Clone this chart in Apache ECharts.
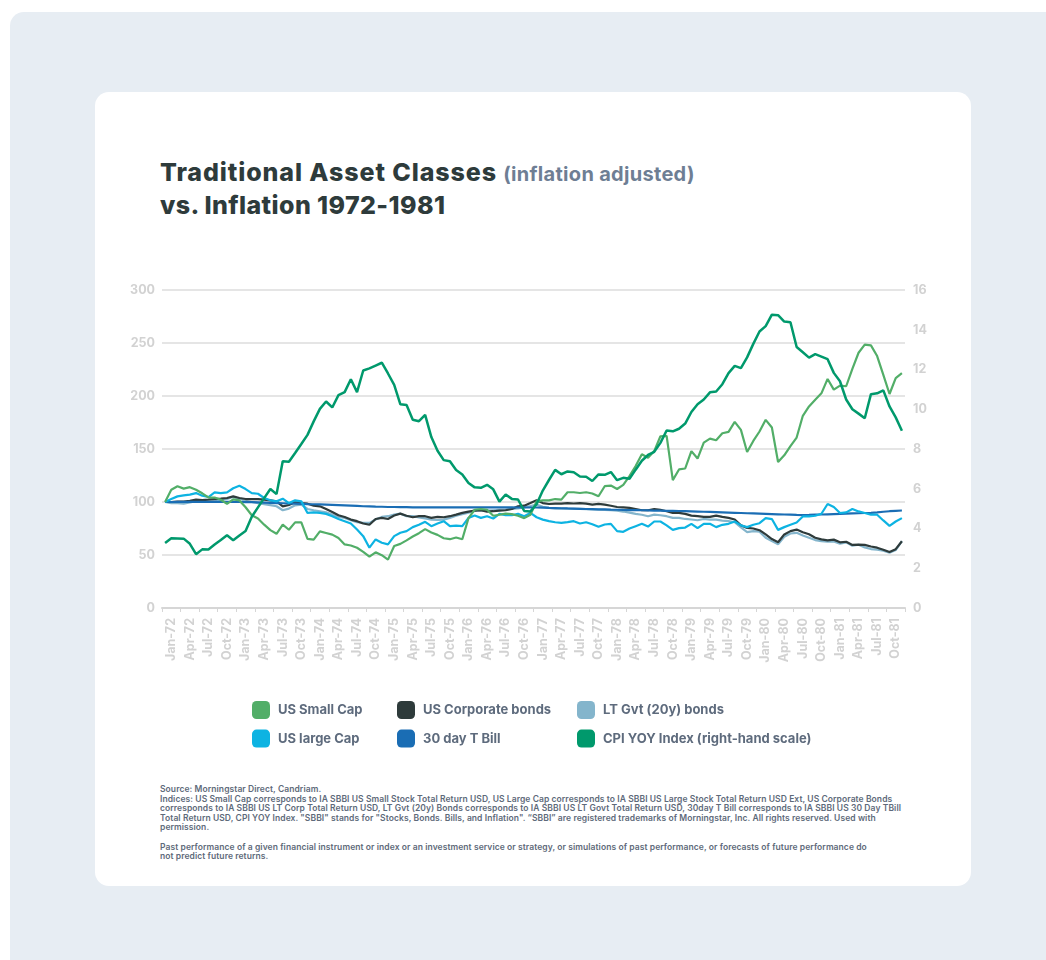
<!DOCTYPE html>
<html>
<head>
<meta charset="utf-8">
<script src="https://cdn.jsdelivr.net/npm/echarts@6/dist/echarts.min.js"></script>
<style>
  html, body { margin: 0; padding: 0; background: #ffffff; }
  body { width: 1046px; height: 960px; position: relative; overflow: hidden; font-family: Inter, "Open Sans", sans-serif; }
  #panel { position: absolute; left: 10px; top: 12px; width: 1060px; height: 980px; background: #E7EDF3; border-radius: 14px; }
  #card { position: absolute; left: 95px; top: 92px; width: 876px; height: 794px; background: #ffffff; border-radius: 14px; }
  #title { position: absolute; left: 160px; top: 157px; font-weight: 800; font-size: 25px; line-height: 31px; color: #2E3B3B; white-space: nowrap; letter-spacing: 0.9px; }
  #title .sub { font-weight: 700; font-size: 20px; color: #6E7E94; letter-spacing: 0.3px; }
  #title .second { letter-spacing: 0.4px; }
  #notes { position: absolute; left: 160px; top: 785px; font-weight: 600; font-size: 8.5px; line-height: 9.6px; color: #5E6A7A; white-space: nowrap; letter-spacing: 0.08px; }
  #chart { position: absolute; left: 0; top: 0; width: 1046px; height: 960px; }
</style>
</head>
<body>
<div id="panel"></div>
<div id="card"></div>
<div id="title">Traditional Asset Classes <span class="sub">(inflation adjusted)</span><br><span class="second">vs. Inflation 1972-1981</span></div>
<div id="notes">
Source: Morningstar Direct, Candriam.<br>
Indices: US Small Cap corresponds to IA SBBI US Small Stock Total Return USD, US Large Cap corresponds to IA SBBI US Large Stock Total Return USD Ext, US Corporate Bonds<br>
corresponds to IA SBBI US LT Corp Total Return USD, LT Gvt (20y) Bonds corresponds to IA SBBI US LT Govt Total Return USD, 30day T Bill corresponds to IA SBBI US 30 Day TBill<br>
Total Return USD, CPI YOY Index. "SBBI" stands for "Stocks, Bonds. Bills, and Inflation". “SBBI” are registered trademarks of Morningstar, Inc. All rights reserved. Used with<br>
permission.<br>
<br>
Past performance of a given financial instrument or index or an investment service or strategy, or simulations of past performance, or forecasts of future performance do<br>
not predict future returns.
</div>
<div id="chart"></div>
<script>
// Monthly categories Jan-72 .. Dec-81, quarterly tick labels
const years = ['72', '73', '74', '75', '76', '77', '78', '79', '80', '81'];
const monthNames = ['Jan', 'Feb', 'Mar', 'Apr', 'May', 'Jun', 'Jul', 'Aug', 'Sep', 'Oct', 'Nov', 'Dec'];
const quarterMonths = ['Jan', 'Apr', 'Jul', 'Oct'];
const months = years.flatMap(y => monthNames.map(m => m + '-' + y));
const quarterLabels = years.flatMap(y => quarterMonths.map(m => m + '-' + y));

// Real growth of 100 (inflation adjusted), monthly
const smallCap = [
  100, 111.5, 114.8, 112.6, 114, 111.6, 108.2, 104.3, 104.2, 102.1, 98.3, 102.5,
  101.5, 95, 87.5, 84.5, 78.6, 73.5, 70, 78.6, 73.8, 80.8, 80.8, 65.2,
  64.5, 72.3, 70.8, 69.2, 66, 60, 59, 56.8, 53, 48.4, 52.5, 49.8,
  45.6, 58.5, 60.5, 63.8, 67.4, 70.6, 74.4, 71.2, 69, 65.8, 64.9, 66.5,
  64.9, 84.8, 92.7, 93.4, 92.7, 87, 88, 89, 88.6, 87, 84.8, 88,
  100.6, 101.6, 101.6, 102.8, 102.2, 109.2, 109.2, 108.5, 109.2, 108, 105.4, 114.9,
  115.5, 112.3, 116.1, 124.4, 133.9, 145, 141.8, 148, 162, 162.3, 120.6, 130.7,
  131.6, 148, 141, 156, 159.8, 158.2, 164.9, 166.1, 175.6, 168, 147.2, 157.6,
  166.5, 177.5, 170.3, 137.7, 144, 152.8, 160.8, 181.3, 190.2, 196.5, 202.5, 216.1,
  206, 209.8, 209.2, 225.6, 240.8, 248.4, 247.8, 237.7, 219.9, 201.9, 216.8, 221.5
];
const largeCap = [
  100, 102.8, 105.3, 106.3, 106.9, 108.4, 105.9, 104.7, 109, 108.4, 109, 113,
  115.3, 112.2, 108.4, 107.8, 103.8, 101.6, 100.6, 103.1, 99, 101.6, 100.6, 89.7,
  90.3, 89.7, 88.8, 86.6, 84, 81.9, 79.7, 74, 67.8, 56.9, 64.7, 61.6,
  60, 67.8, 71, 72.5, 76.3, 78.5, 81.3, 77.2, 79.7, 81.9, 77.2, 77.8,
  77.2, 85, 87.2, 85, 86.6, 84.4, 88.8, 87.5, 87.5, 88.8, 86.6, 89.7,
  85.6, 83.4, 81.9, 80.9, 80.3, 81, 81.9, 79.7, 80.9, 79, 76.6, 78.8,
  79.4, 72.5, 71.9, 75, 77.2, 79.4, 76.8, 81.6, 81.6, 78, 73.7, 75.3,
  75.9, 79.4, 75.3, 79.4, 79.4, 76.3, 78.5, 79.4, 81.6, 78, 76.3, 78.5,
  80, 84.8, 83.9, 73.7, 76.3, 78.5, 80.7, 86.4, 86.4, 87, 88.9, 98.1,
  95.3, 89.6, 90.2, 93.4, 91.1, 89.6, 88, 88, 82.6, 77.5, 81.6, 84.8
];
const corpBonds = [
  100, 100, 100.3, 100.3, 101, 102.2, 101.8, 102.2, 102.8, 103.2, 103.8, 105.3,
  103.8, 102.8, 102.8, 102.8, 102.2, 101.6, 100.6, 95.9, 97.2, 99.7, 99, 98.4,
  96.6, 95.9, 93.4, 90.6, 87.5, 85.9, 83.4, 81.9, 79.7, 78.5, 84, 85,
  84, 87.2, 89, 87, 85.6, 86.6, 86.6, 85, 85.9, 85.6, 86.6, 88.1,
  89.7, 90.9, 91.9, 92.2, 90.9, 91.3, 91.9, 92.2, 93.4, 95.9, 96.5, 99,
  101.6, 99, 98.1, 98.4, 98.4, 99, 98.6, 99, 98.4, 97.5, 98.2, 97.5,
  96.5, 95.3, 95, 94.4, 93.4, 92.2, 92.2, 93.4, 92.5, 91.3, 89.7, 89.7,
  88.8, 87.2, 86.6, 85.9, 85.9, 87.2, 85.9, 85, 83.5, 78, 75.6, 75,
  73.4, 69.4, 65, 62, 69.4, 72.5, 74, 71.5, 69.5, 66.3, 64.7, 63.8,
  64.5, 62, 62.5, 59.5, 59.8, 59.5, 58, 56.9, 55, 52.8, 55.5, 63
];
const ltGvtBonds = [
  100, 99, 98.8, 98.4, 99.5, 100.8, 101, 100.2, 100.5, 102.2, 103, 104.7,
  103, 101, 100, 99, 98, 97, 96, 92.2, 93.8, 96.9, 97.5, 93.4,
  92.2, 91.3, 90.3, 88.1, 85.9, 85, 82.8, 80.9, 80.3, 80.3, 83.4, 85.9,
  86.6, 88.1, 89, 86.6, 86.6, 85.5, 84.5, 83.4, 83, 83.4, 85, 87,
  88.5, 90, 91.5, 92, 91.8, 92.2, 92.6, 92.8, 93.5, 94, 95, 96.2,
  97.5, 95.5, 94.4, 94, 93.8, 93.8, 93.6, 93.5, 93.3, 93, 92.8, 92.5,
  92.2, 91.9, 91, 90, 88.8, 88, 86.6, 88.1, 87.5, 86.6, 85, 85,
  84, 83.5, 82.8, 84, 83.4, 83.4, 82.5, 81.9, 80.9, 76, 71.6, 72.5,
  72, 66.3, 63.1, 60, 67.2, 70.3, 70.9, 68.4, 66.3, 64.1, 63.1, 62.5,
  62.8, 60.6, 61.9, 58.8, 59.7, 57.2, 55.6, 55, 54.1, 52.2, 54.7, 63.2
];
const tBill = [
  100, 100, 100.1, 100.1, 100.1, 100.2, 100.2, 100.2, 100.2, 100.2, 100.1, 100.1,
  100, 99.9, 99.8, 99.6, 99.4, 99.2, 99, 98.8, 98.6, 98.4, 98.2, 98,
  97.9, 97.7, 97.5, 97.3, 97.1, 96.9, 96.6, 96.3, 96, 95.8, 95.6, 95.5,
  95.3, 95.3, 95.2, 95.1, 95, 95, 94.9, 94.9, 94.9, 94.9, 94.9, 94.9,
  94.9, 94.9, 94.9, 94.9, 94.9, 94.9, 94.9, 94.9, 94.9, 94.8, 94.8, 94.8,
  94.8, 94.6, 94.4, 94.3, 94.1, 93.9, 93.8, 93.6, 93.4, 93.3, 93.1, 93,
  92.8, 92.7, 92.5, 92.4, 92.3, 92.2, 92.1, 91.9, 91.8, 91.7, 91.6, 91.5,
  91.4, 91.2, 91, 90.8, 90.6, 90.4, 90.2, 90, 89.8, 89.6, 89.4, 89.2,
  89, 88.8, 88.6, 88.4, 88.2, 88, 87.8, 87.7, 87.8, 88, 88.2, 88.4,
  88.6, 88.8, 89, 89.2, 89.4, 89.6, 89.8, 90.2, 90.8, 91.3, 91.7, 92
];
// CPI year-over-year change, %
const cpiYoy = [
  3.27, 3.51, 3.5, 3.49, 3.23, 2.71, 2.95, 2.94, 3.19, 3.42, 3.66, 3.41,
  3.65, 3.87, 4.59, 5.06, 5.53, 5.99, 5.73, 7.38, 7.36, 7.8, 8.25, 8.71,
  9.39, 10.02, 10.39, 10.09, 10.71, 10.86, 11.51, 10.86, 11.95, 12.06, 12.2, 12.34,
  11.8, 11.23, 10.25, 10.21, 9.47, 9.4, 9.72, 8.6, 7.91, 7.44, 7.38, 6.94,
  6.72, 6.29, 6.07, 6.05, 6.2, 5.97, 5.35, 5.71, 5.49, 5.46, 4.88, 4.86,
  5.22, 5.91, 6.44, 6.95, 6.73, 6.87, 6.83, 6.62, 6.6, 6.39, 6.72, 6.7,
  6.84, 6.43, 6.55, 6.5, 6.96, 7.41, 7.7, 7.86, 8.31, 8.93, 8.89, 9.02,
  9.28, 9.86, 10.25, 10.49, 10.85, 10.89, 11.26, 11.82, 12.18, 12.07, 12.61, 13.29,
  13.91, 14.18, 14.76, 14.73, 14.41, 14.38, 13.13, 12.87, 12.6, 12.77, 12.65, 12.52,
  11.83, 11.41, 10.49, 10, 9.78, 9.55, 10.76, 10.8, 10.95, 10.14, 9.59, 8.92
];

const seriesNames = {
  small: 'US Small Cap',
  large: 'US large Cap',
  corp: 'US Corporate bonds',
  tbill: '30 day T Bill',
  gvt: 'LT Gvt (20y) bonds',
  cpi: 'CPI YOY Index (right-hand scale)'
};
const colors = {
  small: '#52AE68',
  large: '#0DB3E2',
  corp: '#2E3B3B',
  tbill: '#1A6DB4',
  gvt: '#84B5CC',
  cpi: '#00996C'
};

const FONT = 'Inter, "Open Sans", sans-serif';
const axisText = { color: '#D2D2D2', fontSize: 12.5, fontWeight: 'bold', fontFamily: FONT };

function lineSeries(key, data, width, yAxisIndex) {
  return {
    name: seriesNames[key],
    type: 'line',
    data: data,
    xAxisIndex: 0,
    yAxisIndex: yAxisIndex || 0,
    symbol: 'none',
    smooth: false,
    color: colors[key],
    itemStyle: { color: colors[key] },
    lineStyle: { color: colors[key], width: width },
    emphasis: { disabled: true },
    animation: false
  };
}

function legendColumn(left, names) {
  return {
    orient: 'vertical',
    left: left,
    top: 701,
    padding: 0,
    itemWidth: 18,
    itemHeight: 18,
    itemGap: 10.6,
    icon: 'roundRect',
    selectedMode: false,
    data: names,
    textStyle: { color: '#5E6B7D', fontSize: 13, fontWeight: 'bold', fontFamily: FONT, padding: [0, 0, 0, 3] }
  };
}

const chart = echarts.init(document.getElementById('chart'), null, { renderer: 'canvas' });
chart.setOption({
  backgroundColor: 'transparent',
  animation: false,
  grid: { left: 162, right: 141, top: 290, bottom: 352, containLabel: false },
  xAxis: [
    {
      type: 'category',
      data: months,
      boundaryGap: true,
      show: false
    },
    {
      type: 'category',
      data: quarterLabels,
      boundaryGap: true,
      position: 'bottom',
      axisLine: { show: true, lineStyle: { color: '#D6D6D6', width: 2 } },
      axisTick: { show: true, interval: 0, length: 4, lineStyle: { color: '#D6D6D6', width: 1 } },
      axisLabel: Object.assign({ rotate: 90, interval: 0, margin: 10 }, axisText),
      splitLine: { show: false }
    }
  ],
  yAxis: [
    {
      type: 'value',
      min: 0, max: 300, interval: 50,
      axisLine: { show: false },
      axisTick: { show: false },
      axisLabel: Object.assign({ margin: 7 }, axisText),
      splitLine: { show: true, lineStyle: { color: '#DCDCDC', width: 1.5 } }
    },
    {
      type: 'value',
      min: 0, max: 16, interval: 2,
      position: 'right',
      axisLine: { show: false },
      axisTick: { show: false },
      axisLabel: Object.assign({ margin: 8 }, axisText),
      splitLine: { show: false }
    }
  ],
  legend: [
    legendColumn(252, [seriesNames.small, seriesNames.large]),
    legendColumn(397, [seriesNames.corp, seriesNames.tbill]),
    legendColumn(577, [seriesNames.gvt, seriesNames.cpi])
  ],
  series: [
    lineSeries('gvt', ltGvtBonds, 2.2),
    lineSeries('corp', corpBonds, 2.2),
    lineSeries('tbill', tBill, 2.2),
    lineSeries('large', largeCap, 2.2),
    lineSeries('small', smallCap, 2.2),
    lineSeries('cpi', cpiYoy, 2.5, 1)
  ]
});
</script>
</body>
</html>
